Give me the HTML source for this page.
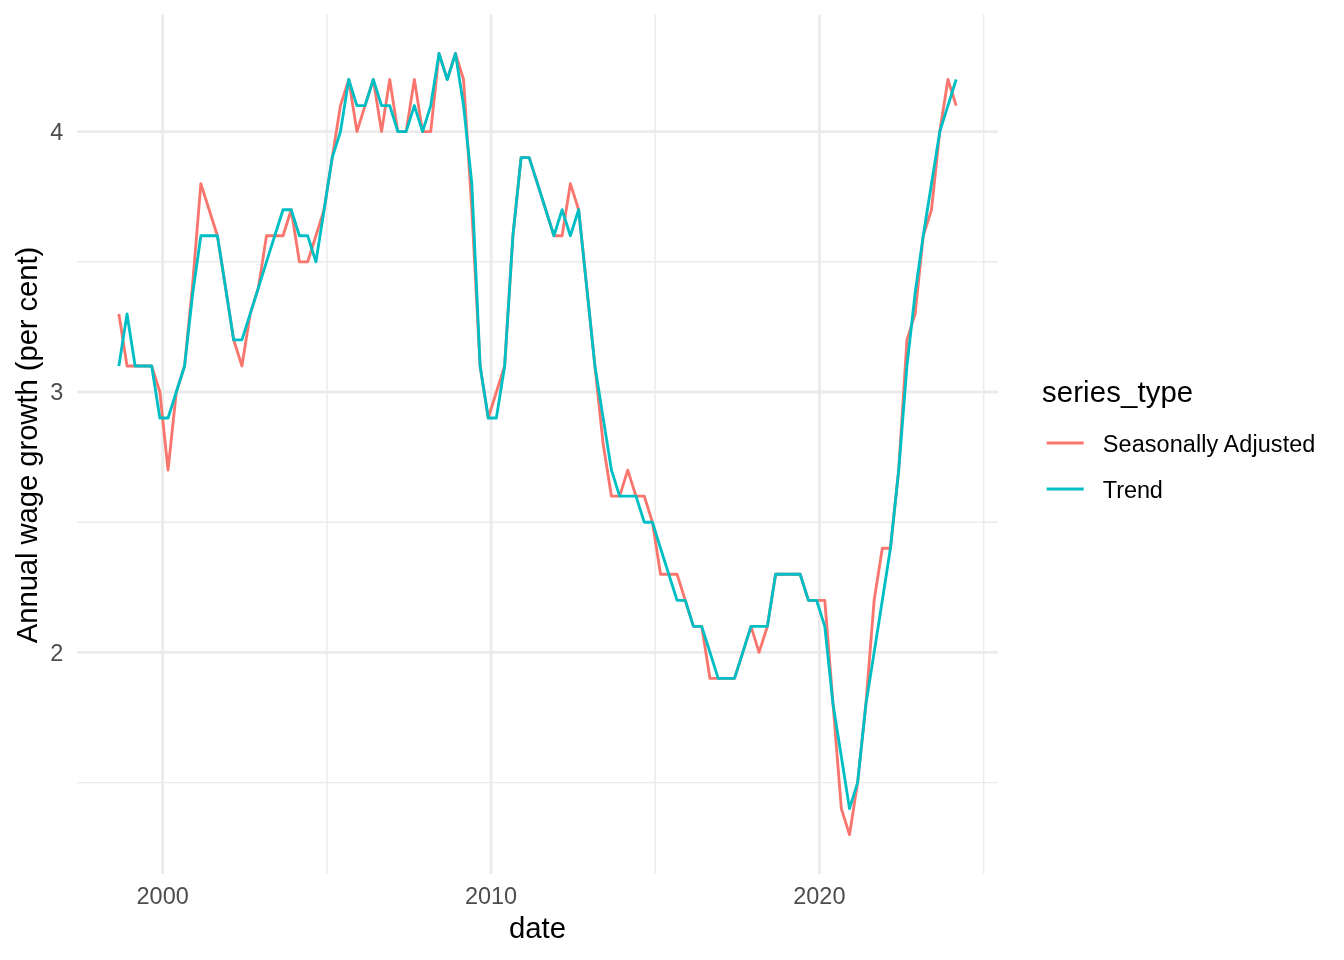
<!DOCTYPE html>
<html><head><meta charset="utf-8"><style>
html,body{margin:0;padding:0;background:#fff;}
svg{display:block;will-change:transform;}
text{font-family:"Liberation Sans", sans-serif;}
.tick{font-size:23.47px;fill:#4D4D4D;}
.title{font-size:29.33px;fill:#000;}
.leg{font-size:23.47px;fill:#000;}
</style></head><body>
<svg width="1344" height="960" viewBox="0 0 1344 960">
<rect width="1344" height="960" fill="#fff"/>
<line x1="77.0" x2="998.0" y1="782.60" y2="782.60" stroke="#EBEBEB" stroke-width="1.42"/><line x1="77.0" x2="998.0" y1="522.20" y2="522.20" stroke="#EBEBEB" stroke-width="1.42"/><line x1="77.0" x2="998.0" y1="261.80" y2="261.80" stroke="#EBEBEB" stroke-width="1.42"/><line x1="326.90" x2="326.90" y1="14.42" y2="873.74" stroke="#EBEBEB" stroke-width="1.42"/><line x1="655.23" x2="655.23" y1="14.42" y2="873.74" stroke="#EBEBEB" stroke-width="1.42"/><line x1="983.65" x2="983.65" y1="14.42" y2="873.74" stroke="#EBEBEB" stroke-width="1.42"/><line x1="77.0" x2="998.0" y1="652.40" y2="652.40" stroke="#EBEBEB" stroke-width="2.85"/><line x1="77.0" x2="998.0" y1="392.00" y2="392.00" stroke="#EBEBEB" stroke-width="2.85"/><line x1="77.0" x2="998.0" y1="131.60" y2="131.60" stroke="#EBEBEB" stroke-width="2.85"/><line x1="162.65" x2="162.65" y1="14.42" y2="873.74" stroke="#EBEBEB" stroke-width="2.85"/><line x1="491.06" x2="491.06" y1="14.42" y2="873.74" stroke="#EBEBEB" stroke-width="2.85"/><line x1="819.39" x2="819.39" y1="14.42" y2="873.74" stroke="#EBEBEB" stroke-width="2.85"/>
<polyline fill="none" stroke="#F8766D" stroke-width="2.85" stroke-linejoin="round" stroke-linecap="butt" points="118.86,313.88 127.04,365.96 135.14,365.96 143.41,365.96 151.68,365.96 159.86,392.00 168.04,470.12 176.31,392.00 184.58,365.96 192.76,282.63 200.86,183.68 209.13,209.72 217.40,235.76 225.58,287.84 233.67,339.92 241.94,365.96 250.21,313.88 258.39,287.84 266.49,235.76 274.76,235.76 283.03,235.76 291.21,209.72 299.39,261.80 307.66,261.80 315.93,235.76 324.11,209.72 332.21,157.64 340.48,105.56 348.75,79.52 356.93,131.60 365.02,105.56 373.29,79.52 381.56,131.60 389.74,79.52 397.83,131.60 406.11,131.60 414.38,79.52 422.56,131.60 430.74,131.60 439.01,53.48 447.28,79.52 455.46,53.48 463.55,79.52 471.83,209.72 480.10,365.96 488.28,418.04 496.37,392.00 504.64,365.96 512.91,235.76 521.09,157.64 529.18,157.64 537.46,183.68 545.73,209.72 553.91,235.76 562.09,235.76 570.36,183.68 578.63,209.72 586.81,287.84 594.90,365.96 603.17,444.08 611.45,496.16 619.63,496.16 627.72,470.12 635.99,496.16 644.26,496.16 652.44,522.20 660.53,574.28 668.80,574.28 677.08,574.28 685.26,600.32 693.44,626.36 701.71,626.36 709.98,678.44 718.16,678.44 726.25,678.44 734.52,678.44 742.79,652.40 750.98,626.36 759.07,652.40 767.34,626.36 775.61,574.28 783.79,574.28 791.88,574.28 800.15,574.28 808.42,600.32 816.61,600.32 824.79,600.32 833.06,704.48 841.33,808.64 849.51,834.68 857.60,782.60 865.87,704.48 874.14,600.32 882.33,548.24 890.42,548.24 898.69,470.12 906.96,339.92 915.14,313.88 923.23,235.76 931.50,209.72 939.77,131.60 947.96,79.52 956.14,105.56"/>
<polyline fill="none" stroke="#00BFC4" stroke-width="2.85" stroke-linejoin="round" stroke-linecap="butt" points="118.86,365.96 127.04,313.88 135.14,365.96 143.41,365.96 151.68,365.96 159.86,418.04 168.04,418.04 176.31,392.00 184.58,365.96 192.76,293.05 200.86,235.76 209.13,235.76 217.40,235.76 225.58,287.84 233.67,339.92 241.94,339.92 250.21,313.88 258.39,287.84 266.49,261.80 274.76,235.76 283.03,209.72 291.21,209.72 299.39,235.76 307.66,235.76 315.93,261.80 324.11,209.72 332.21,157.64 340.48,131.60 348.75,79.52 356.93,105.56 365.02,105.56 373.29,79.52 381.56,105.56 389.74,105.56 397.83,131.60 406.11,131.60 414.38,105.56 422.56,131.60 430.74,105.56 439.01,53.48 447.28,79.52 455.46,53.48 463.55,105.56 471.83,183.68 480.10,365.96 488.28,418.04 496.37,418.04 504.64,365.96 512.91,235.76 521.09,157.64 529.18,157.64 537.46,183.68 545.73,209.72 553.91,235.76 562.09,209.72 570.36,235.76 578.63,209.72 586.81,287.84 594.90,365.96 603.17,418.04 611.45,470.12 619.63,496.16 627.72,496.16 635.99,496.16 644.26,522.20 652.44,522.20 660.53,548.24 668.80,574.28 677.08,600.32 685.26,600.32 693.44,626.36 701.71,626.36 709.98,652.40 718.16,678.44 726.25,678.44 734.52,678.44 742.79,652.40 750.98,626.36 759.07,626.36 767.34,626.36 775.61,574.28 783.79,574.28 791.88,574.28 800.15,574.28 808.42,600.32 816.61,600.32 824.79,626.36 833.06,704.48 841.33,756.56 849.51,808.64 857.60,782.60 865.87,704.48 874.14,652.40 882.33,600.32 890.42,548.24 898.69,470.12 906.96,365.96 915.14,293.05 923.23,235.76 931.50,183.68 939.77,131.60 947.96,105.56 956.14,79.52"/>
<text x="63.3" y="660.80" text-anchor="end" class="tick">2</text><text x="63.3" y="400.40" text-anchor="end" class="tick">3</text><text x="63.3" y="140.00" text-anchor="end" class="tick">4</text>
<text x="162.65" y="904.3" text-anchor="middle" class="tick">2000</text><text x="491.06" y="904.3" text-anchor="middle" class="tick">2010</text><text x="819.39" y="904.3" text-anchor="middle" class="tick">2020</text>
<text x="537.5" y="937.7" text-anchor="middle" class="title">date</text>
<text transform="translate(37,445) rotate(-90)" text-anchor="middle" class="title" letter-spacing="-0.1">Annual wage growth (per cent)</text>
<text x="1042" y="402.2" class="title" letter-spacing="0.12">series_type</text>
<line x1="1046.7" x2="1083.7" y1="443.0" y2="443.0" stroke="#F8766D" stroke-width="2.85"/>
<line x1="1046.7" x2="1083.7" y1="489.0" y2="489.0" stroke="#00BFC4" stroke-width="2.85"/>
<text x="1102.8" y="451.6" class="leg" letter-spacing="0.07">Seasonally Adjusted</text>
<text x="1102.8" y="497.9" class="leg" letter-spacing="-0.08">Trend</text>
</svg>
</body></html>
